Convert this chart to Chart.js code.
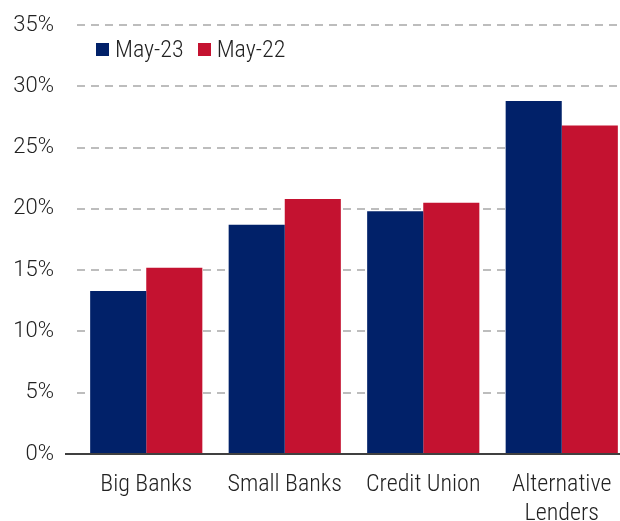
<!DOCTYPE html>
<html>
<head>
<meta charset="utf-8">
<script src="https://cdn.jsdelivr.net/npm/chart.js@4"></script>
<style>
  html, body { margin: 0; padding: 0; background: #fff; overflow: hidden; }
  .wrap { position: relative; width: 631px; height: 521px; }
  .legend { position: absolute; left: 96px; top: 34px; display: flex; gap: 14px;
            font-family: Roboto, sans-serif; font-weight: 300; font-stretch: condensed;
            font-size: 24px; line-height: 30px; color: #222; }
  .legend span { display: flex; align-items: center; }
  .legend i { display: inline-block; width: 13px; height: 13px; margin-right: 6px; }
</style>
</head>
<body>
<div class="wrap">
  <canvas id="chart"></canvas>
  <div class="legend" id="legend"></div>
</div>
<script>
const categories = [['Big Banks'], ['Small Banks'], ['Credit Union'], ['Alternative', 'Lenders']];
const may23 = [13.3, 18.7, 19.8, 28.8];
const may22 = [15.2, 20.8, 20.5, 26.8];
const yTicks = [0, 5, 10, 15, 20, 25, 30, 35];

// weight carries the stretch keyword so the canvas gets a condensed Roboto
const xFont = { family: 'Roboto, sans-serif', size: 24, weight: '300 condensed', lineHeight: 1.2 };
const yFont = { family: 'Roboto, sans-serif', size: 22, weight: '300' };

const datasets = [
    { label: 'May-23', data: may23, backgroundColor: '#012169' },
    { label: 'May-22', data: may22, backgroundColor: '#c41230' }
];

const legend = document.getElementById('legend');
datasets.forEach(ds => {
    const item = document.createElement('span');
    item.innerHTML = `<i style="background:${ds.backgroundColor}"></i>${ds.label}`;
    legend.appendChild(item);
});

const ctx = document.getElementById('chart').getContext('2d');
new Chart(ctx, {
    type: 'bar',
    data: { labels: categories, datasets: datasets },
    options: {
        responsive: true,
        maintainAspectRatio: false,
        animation: false,
        datasets: { bar: { categoryPercentage: 0.81, barPercentage: 1.0 } },
        layout: { padding: { top: 25, left: 0, right: 0, bottom: 0 } },
        scales: {
            x: {
                grid: { display: false, drawTicks: false },
                border: { display: true, color: '#404040', width: 2 },
                ticks: { color: '#222', font: xFont, padding: 17, maxRotation: 0 },
                afterFit: s => { s.height = 67; }
            },
            y: {
                min: 0, max: 35,
                afterBuildTicks: s => { s.ticks = yTicks.map(v => ({ value: v })); },
                grid: {
                    color: c => c.tick && c.tick.value === 0 ? 'rgba(0,0,0,0)' : '#bdbdbd',
                    lineWidth: 2,
                    drawTicks: true,
                    tickLength: 12,
                    tickWidth: 2,
                    tickColor: c => c.tick && c.tick.value === 0 ? '#404040' : 'rgba(0,0,0,0)'
                },
                border: { display: false, dash: [8, 6] },
                ticks: { color: '#222', font: yFont, padding: 11, callback: v => v + '%' },
                afterFit: s => { s.width = 77; }
            }
        },
        plugins: { legend: { display: false }, tooltip: { enabled: false } }
    }
});
</script>
</body>
</html>
